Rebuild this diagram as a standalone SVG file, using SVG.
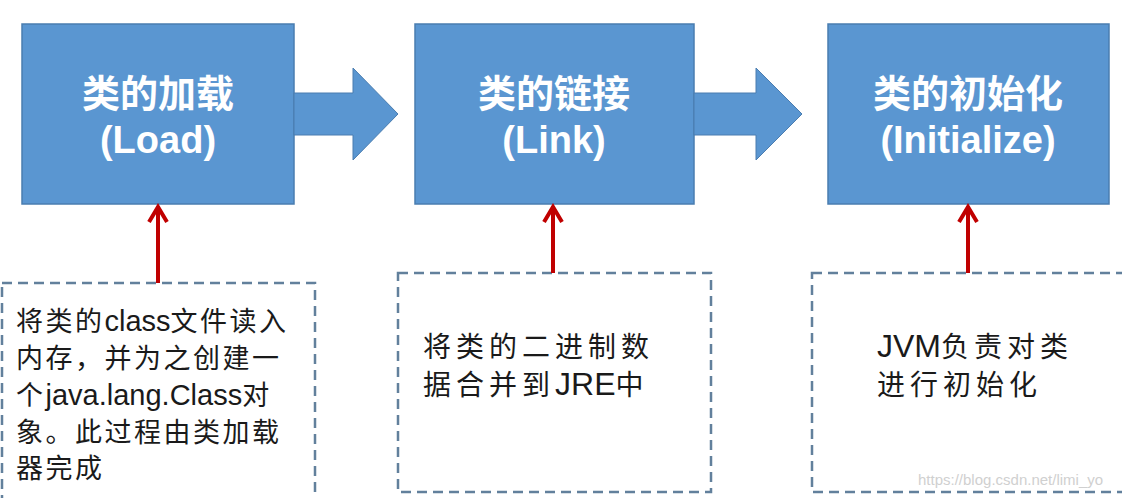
<svg xmlns="http://www.w3.org/2000/svg" width="1122" height="498" viewBox="0 0 1122 498">
<defs>
<style>
.box{fill:#5A96D1;stroke:#4A7DB0;stroke-width:1.5}
.flow{fill:#5A96D1;stroke:#4A7DB0;stroke-width:1}
.title{font-family:"Liberation Sans","Noto Sans CJK SC",sans-serif;font-weight:bold;font-size:38px;fill:#ffffff;text-anchor:middle}
.note{fill:none;stroke:#62809C;stroke-width:2.5;stroke-dasharray:10 6}
.body{font-family:"Liberation Sans","Noto Sans CJK SC",sans-serif;fill:#1a1a1a}
.cjk1{font-size:27px;letter-spacing:2.5px}
.lat1{font-size:29px;letter-spacing:0}
.cjk2{font-size:28px;letter-spacing:5px}
.lat2{font-size:32px;letter-spacing:0}
.red{stroke:#C00000;stroke-width:4;fill:none}
.redhead{stroke:#C00000;stroke-width:4;fill:none;stroke-linejoin:miter}
</style>
</defs>
<rect width="1122" height="498" fill="#ffffff"/>
<g id="node-load">
<rect class="box" x="22" y="24" width="272" height="180"/>
<text class="title" x="158" y="107">类的加载</text>
<text class="title" x="158" y="153">(Load)</text>
</g>
<g id="node-link">
<rect class="box" x="415" y="24" width="279" height="180"/>
<text class="title" x="554" y="107">类的链接</text>
<text class="title" x="554" y="153">(Link)</text>
</g>
<g id="node-init">
<rect class="box" x="828" y="24" width="281" height="180"/>
<text class="title" x="968" y="107">类的初始化</text>
<text class="title" x="968" y="153">(Initialize)</text>
</g>
<g id="note-load">
<rect class="note" x="2" y="283" width="313" height="230"/>
<text class="body"><tspan x="16" y="331" class="cjk1">将类的</tspan><tspan class="lat1">class</tspan><tspan class="cjk1">文件读入</tspan></text>
<text class="body"><tspan x="16" y="368" class="cjk1">内存，并为之创建一</tspan></text>
<text class="body"><tspan x="16" y="405" class="cjk1">个</tspan><tspan class="lat1">java.lang.Class</tspan><tspan class="cjk1">对</tspan></text>
<text class="body"><tspan x="16" y="442" class="cjk1">象。此过程由类加载</tspan></text>
<text class="body"><tspan x="16" y="478" class="cjk1">器完成</tspan></text>
</g>
<g id="note-link">
<rect class="note" x="398" y="273" width="313" height="219"/>
<text class="body"><tspan x="423" y="357" class="cjk2">将类的二进制数</tspan></text>
<text class="body"><tspan x="423" y="395" class="cjk2">据合并到</tspan><tspan class="lat2">JRE</tspan><tspan class="cjk2">中</tspan></text>
</g>
<g id="note-init">
<rect class="note" x="812" y="273" width="320" height="219"/>
<text class="body"><tspan x="877" y="357" class="lat2">JVM</tspan><tspan class="cjk2">负责对类</tspan></text>
<text class="body"><tspan x="877" y="395" class="cjk2">进行初始化</tspan></text>
</g>
<g id="connectors">
<polygon class="flow" points="294,93 353,93 353,68 398,114 353,160 353,135 294,135"/>
<polygon class="flow" points="694,93 756,93 756,68 802,114 756,160 756,135 694,135"/>
<line class="red" x1="158" y1="208" x2="158" y2="283"/>
<polyline class="redhead" points="149,222 158,207 167,222"/>
<line class="red" x1="553" y1="208" x2="553" y2="273"/>
<polyline class="redhead" points="544,222 553,207 562,222"/>
<line class="red" x1="968" y1="208" x2="968" y2="273"/>
<polyline class="redhead" points="959,222 968,207 977,222"/>
</g>
<text x="918" y="485" font-family="Liberation Sans, sans-serif" font-size="15" fill="#d0d0d0">https://blog.csdn.net/limi_yo</text>
</svg>
